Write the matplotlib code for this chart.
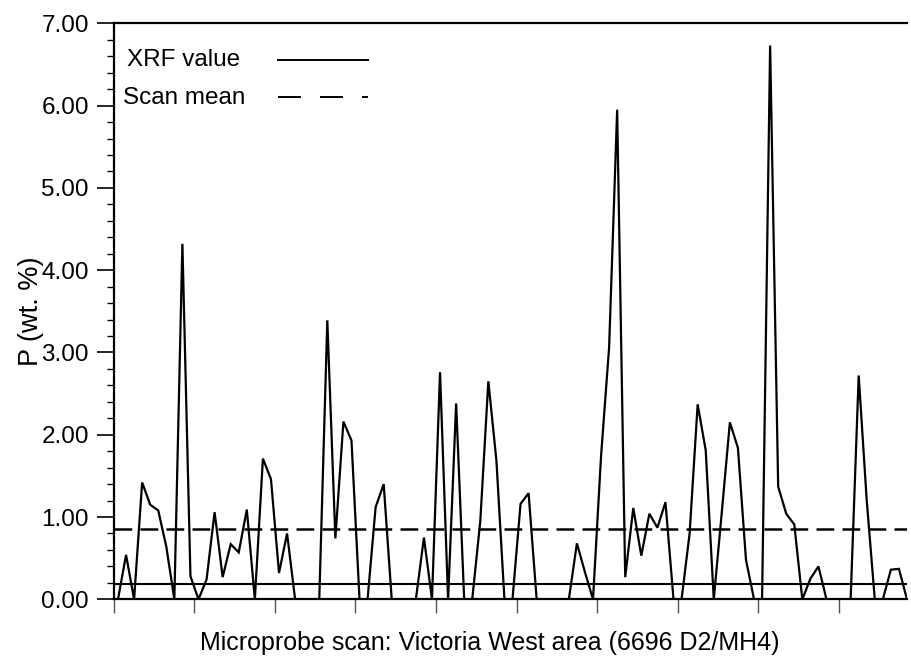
import numpy as np
import matplotlib
matplotlib.use("Agg")
import matplotlib.pyplot as plt
from matplotlib.ticker import MultipleLocator, FormatStrFormatter

# P content (wt. %) along the microprobe scan, one value per sample position
p_values = [
    0.00, 0.54, 0.00, 1.42, 1.15, 1.08, 0.64, 0.00, 4.32, 0.28,
    0.00, 0.24, 1.06, 0.27, 0.67, 0.57, 1.09, 0.00, 1.71, 1.46,
    0.32, 0.80, 0.00, 0.00, 0.00, 0.00, 3.39, 0.74, 2.16, 1.93,
    0.00, 0.00, 1.12, 1.40, 0.00, 0.00, 0.00, 0.00, 0.75, 0.00,
    2.76, 0.00, 2.38, 0.00, 0.00, 0.95, 2.65, 1.69, 0.00, 0.00,
    1.16, 1.29, 0.00, 0.00, 0.00, 0.00, 0.00, 0.68, 0.33, 0.00,
    1.74, 3.06, 5.95, 0.27, 1.11, 0.53, 1.04, 0.87, 1.18, 0.00,
    0.00, 0.80, 2.37, 1.81, 0.00, 1.06, 2.15, 1.84, 0.48, 0.00,
    0.00, 6.73, 1.37, 1.04, 0.91, 0.00, 0.25, 0.40, 0.00, 0.00,
    0.00, 0.00, 2.72, 1.20, 0.00, 0.00, 0.36, 0.37, 0.00,
]
lower_limit = 0.186

series_label = "XRF value"
mean_label = "Scan mean"
x_title = "Microprobe scan: Victoria West area (6696 D2/MH4)"
y_title = "P (wt. %)"

values = np.array(p_values)
positions = np.arange(len(values)) + 0.5
scan_mean = values.mean()

plt.rcParams["font.family"] = ["Liberation Sans", "DejaVu Sans"]

fig = plt.figure(figsize=(9.11, 6.62), dpi=100)
ax = fig.add_axes([0.1251, 0.0947, 0.8705, 0.8701])

ax.plot(positions, values, color="black", lw=1.6, solid_joinstyle="miter")
ax.axhline(scan_mean, color="black", lw=1.8, dashes=(7.1, 3.3))
ax.axhline(lower_limit, color="black", lw=1.5)

ax.set_xlim(0, positions[-1])
ax.set_ylim(0, 7)

ax.xaxis.set_major_locator(MultipleLocator(10))
ax.tick_params(axis="x", which="major", direction="out", length=10,
               width=1.0, color="#555555", labelbottom=False)
ax.yaxis.set_major_locator(MultipleLocator(1))
ax.yaxis.set_minor_locator(MultipleLocator(0.2))
ax.yaxis.set_major_formatter(FormatStrFormatter("%.2f"))
ax.tick_params(axis="y", which="major", direction="out", length=12,
               width=1.2, labelsize=17.5, pad=6)
ax.tick_params(axis="y", which="minor", direction="out", length=5, width=1.0)

for side in ("left", "bottom", "top"):
    ax.spines[side].set_linewidth(1.6)
ax.spines["right"].set_visible(False)

ax.set_ylabel(y_title, fontsize=19.5, labelpad=-2)
ax.set_xlabel(x_title, fontsize=18)
ax.xaxis.set_label_coords(0.474, -0.075, transform=ax.transAxes)
ax.xaxis.label.set_va("center")

# legend block: text on the left, line sample on the right
ax.text(0.016, 0.937, series_label, transform=ax.transAxes, fontsize=17.5,
        va="center", ha="left")
ax.text(0.012, 0.870, mean_label, transform=ax.transAxes, fontsize=17.5,
        va="center", ha="left")
ax.plot([0.207, 0.320], [0.937, 0.937], transform=ax.transAxes,
        color="black", lw=1.4)
ax.plot([0.207, 0.320], [0.872, 0.872], transform=ax.transAxes,
        color="black", lw=1.4, dashes=(11.8, 9.8))

fig.savefig("out.png", dpi=100)
